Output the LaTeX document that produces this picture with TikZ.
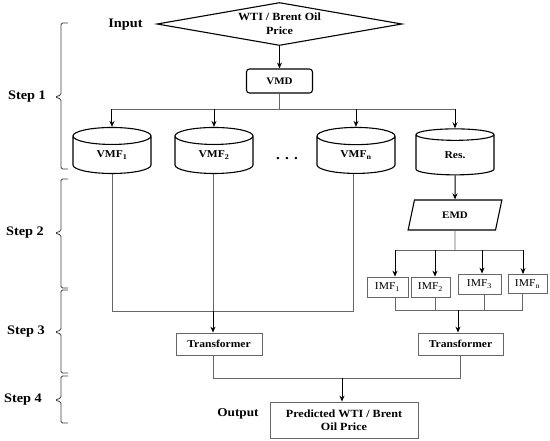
\documentclass[tikz,border=0pt]{standalone}
\usepackage{fontspec}
\setmainfont[FakeStretch=1.1]{Liberation Serif}
\usetikzlibrary{shapes.geometric,arrows.meta}
\begin{document}
\begin{tikzpicture}[x=1pt,y=-1pt,
  blk/.style={draw=black,line width=1.1pt,inner sep=0pt,font=\bfseries\fontsize{10}{12}\selectfont,align=center},
  gbox/.style={draw=black!60,line width=0.8pt,inner sep=0pt,align=center},
  cyl/.style={blk,cylinder,shape border rotate=90,aspect=0.55,minimum width=78pt,minimum height=46pt,font=\bfseries\fontsize{10.5}{12}\selectfont},
  arr/.style={draw=black,line width=1pt,-{Stealth[length=6pt,width=5pt]}},
  ln/.style={draw=black!60,line width=0.8pt},
  brc/.style={draw=black!75,line width=0.8pt,rounded corners=1.5pt},
  lbl/.style={font=\bfseries\fontsize{13}{15}\selectfont,inner sep=0pt}]
\useasboundingbox (0,0) rectangle (550,440);

% braces and step labels
\draw[brc] (68,23) -- (61,23) -- (61,95) -- (55,97) -- (61,99) -- (61,169) -- (68,169);
\draw[brc] (68,179) -- (61,179) -- (61,231) -- (55,233) -- (61,235) -- (61,288) -- (68,288);
\draw[brc] (68,290) -- (61,290) -- (61,330) -- (55,332) -- (61,334) -- (61,373) -- (68,373);
\draw[brc] (68,376) -- (61,376) -- (61,398) -- (55,400) -- (61,402) -- (61,423) -- (68,423);
\node[lbl,anchor=east] (s1) at (46,97) {Step 1};
\node[lbl,anchor=east] (s2) at (44,233) {Step 2};
\node[lbl,anchor=east] (s3) at (45,332) {Step 3};
\node[lbl,anchor=east] (s4) at (42,400) {Step 4};

% nodes
\node[lbl] (inl) at (125.5,25) {Input};
\node[blk,diamond,aspect=5.7,minimum width=245pt,minimum height=43pt,font=\bfseries\fontsize{11}{14}\selectfont] (in) at (279.5,24) {WTI / Brent Oil\\Price};
\node[blk,rounded corners=3pt,minimum width=66pt,minimum height=24pt] (vmd) at (279.5,81) {VMD};
\node[cyl] (c1) at (112,155) {VMF\textsubscript{1}};
\node[cyl] (c2) at (214,155) {VMF\textsubscript{2}};
\node[cyl] (cn) at (356,155) {VMF\textsubscript{n}};
\node[cyl] (res) at (455,155) {Res.};
\node[font=\bfseries\fontsize{14}{14}\selectfont,inner sep=0pt] (dots) at (287,159) {. . .};
\node[blk,trapezium,trapezium left angle=73,trapezium right angle=107,trapezium stretches=true,minimum width=94pt,minimum height=30pt] (emd) at (455,215) {EMD};
\node[gbox,minimum width=41pt,minimum height=20pt,font=\fontsize{10.5}{12}\selectfont] (i1) at (387.5,287) {IMF\textsubscript{1}};
\node[gbox,minimum width=39pt,minimum height=20pt,font=\fontsize{10.5}{12}\selectfont] (i2) at (430.5,287) {IMF\textsubscript{2}};
\node[gbox,minimum width=43pt,minimum height=20pt,font=\fontsize{10.5}{12}\selectfont] (i3) at (479.5,284) {IMF\textsubscript{3}};
\node[gbox,minimum width=39pt,minimum height=19pt,font=\fontsize{10.5}{12}\selectfont] (i4) at (527.5,284) {IMF\textsubscript{n}};
\node[gbox,minimum width=86pt,minimum height=22pt,font=\bfseries\fontsize{10.5}{12}\selectfont] (t1) at (219,344) {Transformer};
\node[gbox,minimum width=85pt,minimum height=22pt,font=\bfseries\fontsize{10.5}{12}\selectfont] (t2) at (460.5,344) {Transformer};
\node[gbox,minimum width=148pt,minimum height=36pt,font=\bfseries\fontsize{11}{13}\selectfont] (out) at (344,420) {Predicted WTI / Brent\\Oil Price};
\node[lbl,font=\bfseries\fontsize{12}{14}\selectfont] (outl) at (238,414) {Output};

% step 1 connectors
\coordinate (sp1) at (279.5,109);
\draw[arr] (in.south) -- (vmd.north);
\draw[ln] (vmd.south) -- (sp1);
\draw[ln] (c1.north |- sp1) -- (res.north |- sp1);
\foreach \n in {c1,c2,cn,res} \draw[arr] (\n.north |- sp1) -- (\n.north);

% step 2 connectors
\draw[arr] (res.south) -- (emd.north);
\coordinate (sp2) at (455,250);
\coordinate (a1) at (395,250);
\coordinate (a2) at (435,250);
\coordinate (a3) at (482,250);
\coordinate (a4) at (523,250);
\draw[ln] (emd.south) -- (sp2);
\draw[ln] (a1) -- (a4);
\draw[arr] (a1) -- (a1 |- i1.north);
\draw[arr] (a2) -- (a2 |- i2.north);
\draw[arr] (a3) -- (a3 |- i3.north);
\draw[arr] (a4) -- (a4 |- i4.north);

% IMF merge
\coordinate (m1) at (395,310);
\coordinate (m2) at (435,310);
\coordinate (m3) at (484,310);
\coordinate (m4) at (522,310);
\coordinate (m0) at (458,310);
\draw[ln] (m1 |- i1.south) -- (m1) -- (m4) -- (m4 |- i4.south);
\draw[ln] (m2 |- i2.south) -- (m2);
\draw[ln] (m3 |- i3.south) -- (m3);
\draw[arr] (m0) -- (m0 |- t2.north);

% VMF merge
\coordinate (v1) at (112,311);
\coordinate (v2) at (213,311);
\coordinate (v3) at (353,311);
\draw[ln] (c1.south) -- (v1) -- (v3) -- (v3 |- cn.south);
\draw[ln] (v2 |- c2.south) -- (v2);
\draw[arr] (v2) -- (v2 |- t1.north);

% final merge
\coordinate (f1) at (213,378);
\coordinate (f2) at (460,378);
\coordinate (f0) at (342,378);
\draw[ln] (f1 |- t1.south) -- (f1) -- (f2) -- (f2 |- t2.south);
\draw[arr] (f0) -- (f0 |- out.north);
\end{tikzpicture}
\end{document}
